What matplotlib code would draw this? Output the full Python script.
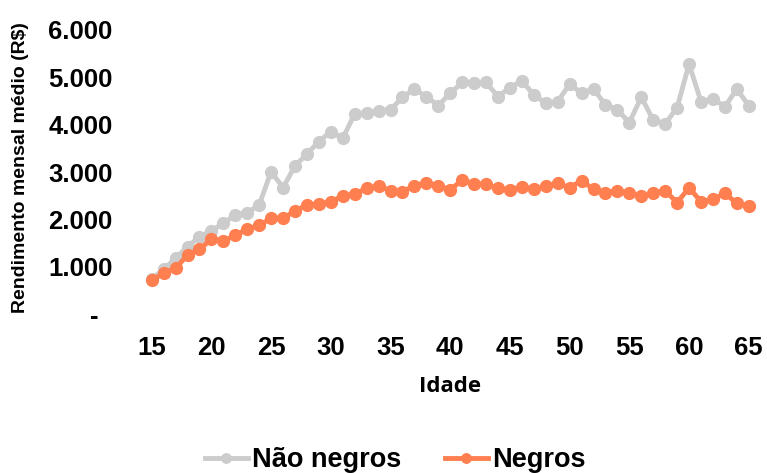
import numpy as np
import matplotlib
matplotlib.use("Agg")
import matplotlib.pyplot as plt
from matplotlib.ticker import FuncFormatter

# Idade (anos)
idade = list(range(15, 66))

# Rendimento mensal medio (R$) - Nao negros
nao_negros = [740, 945, 1177, 1423, 1634, 1761, 1917, 2093, 2142, 2304,
              3009, 2670, 3129, 3383, 3643, 3854, 3714, 4228, 4243, 4298,
              4313, 4581, 4750, 4594, 4404, 4666, 4891, 4877, 4891, 4594,
              4785, 4926, 4630, 4454, 4489, 4856, 4666, 4757, 4419, 4313,
              4045, 4581, 4101, 4017, 4362, 5279, 4489, 4545, 4383, 4750,
              4404]

# Rendimento mensal medio (R$) - Negros
negros = [719, 860, 966, 1247, 1367, 1585, 1536, 1670, 1790, 1875,
          2023, 2023, 2178, 2304, 2325, 2375, 2495, 2537, 2657, 2706,
          2607, 2586, 2713, 2776, 2713, 2622, 2833, 2748, 2742, 2657,
          2622, 2692, 2643, 2706, 2763, 2671, 2819, 2636, 2565, 2607,
          2551, 2495, 2551, 2607, 2353, 2671, 2374, 2425, 2551, 2340,
          2290]

x_ticks = list(range(15, 70, 5))
y_ticks = [0, 1000, 2000, 3000, 4000, 5000, 6000]

cinza = "#CCCCCC"
laranja = "#FF7F50"

plt.rcParams['font.family'] = ['Liberation Sans', 'DejaVu Sans']

fig = plt.figure(figsize=(7.67, 4.73), dpi=100)
ax = fig.add_axes([0.190, 0.336, 0.794, 0.6006])

ax.plot(idade, nao_negros, color=cinza, lw=3.5, marker='o', ms=8.5,
        label="Não negros", zorder=2)
ax.plot(idade, negros, color=laranja, lw=3.5, marker='o', ms=8.5,
        label="Negros", zorder=3)

ax.set_xlim(14.5, 65.5)
ax.set_ylim(0, 6000)
ax.set_xticks(x_ticks)
ax.set_yticks(y_ticks)


def fmt(v, pos):
    if v == 0:
        return "-  "
    return "{:,.0f}".format(v).replace(",", ".")


ax.yaxis.set_major_formatter(FuncFormatter(fmt))
ax.tick_params(axis='both', length=0, labelsize=18.5)
ax.tick_params(axis='y', pad=24)
ax.tick_params(axis='x', pad=16)
for lab in ax.get_xticklabels() + ax.get_yticklabels():
    lab.set_fontweight('bold')

for s in ax.spines.values():
    s.set_visible(False)

ax.set_xlabel("Idade", family=['Open Sans', 'DejaVu Sans'], fontweight='bold',
              fontsize=16, labelpad=11)
fig.text(0.027, 1 - 168 / 473, "Rendimento mensal médio (R$)", rotation=90,
         ha='center', va='center', fontsize=14, fontweight='bold')

fig.legend(loc='center', bbox_to_anchor=(395 / 767, 1 - 460 / 473), ncol=2,
           frameon=False, prop={'size': 19.5, 'weight': 'bold'},
           handlelength=1.6, handletextpad=0.15, columnspacing=1.6,
           markerscale=0.8)

fig.savefig("out.png", dpi=100)
